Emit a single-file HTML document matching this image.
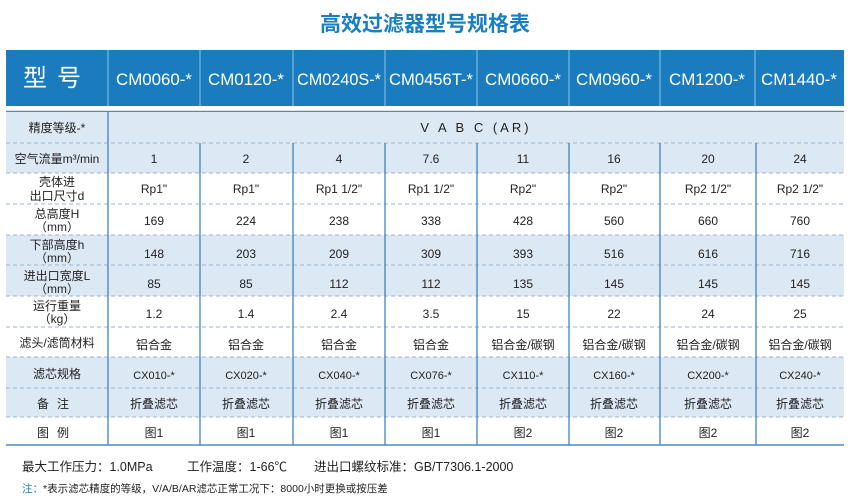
<!DOCTYPE html>
<html><head><meta charset="utf-8"><style>
*{margin:0;padding:0;box-sizing:border-box}
body{width:850px;height:498px;background:#fff;position:relative;overflow:hidden;font-family:"Liberation Sans","Noto Sans CJK SC",sans-serif;color:#222}
.t{position:absolute;text-align:center;white-space:nowrap}
</style></head><body>
<div class="t" style="left:0;width:850px;top:8px;font-size:21px;font-weight:bold;color:#1a7fc1">高效过滤器型号规格表</div>
<svg width="850" height="498" style="position:absolute;left:0;top:0" font-family="Liberation Sans, Noto Sans CJK SC, sans-serif">
<rect x="6" y="50" width="838" height="56" fill="#1a7cbf"/>
<g stroke="#8fc0e4" stroke-width="1">
<line x1="108" y1="50" x2="108" y2="106"/><line x1="200" y1="50" x2="200" y2="106"/><line x1="293" y1="50" x2="293" y2="106"/><line x1="385" y1="50" x2="385" y2="106"/><line x1="477" y1="50" x2="477" y2="106"/><line x1="569" y1="50" x2="569" y2="106"/><line x1="660" y1="50" x2="660" y2="106"/><line x1="755" y1="50" x2="755" y2="106"/>
</g>
<g fill="#fff" font-size="17" text-anchor="middle">
<text x="57" y="86" font-size="24" letter-spacing="10">型号</text>
<text x="154" y="85" textLength="76" lengthAdjust="spacingAndGlyphs">CM0060-*</text><text x="246" y="85" textLength="76" lengthAdjust="spacingAndGlyphs">CM0120-*</text><text x="339" y="85" textLength="84" lengthAdjust="spacingAndGlyphs">CM0240S-*</text><text x="431" y="85" textLength="84" lengthAdjust="spacingAndGlyphs">CM0456T-*</text><text x="523" y="85" textLength="76" lengthAdjust="spacingAndGlyphs">CM0660-*</text><text x="614" y="85" textLength="76" lengthAdjust="spacingAndGlyphs">CM0960-*</text><text x="707" y="85" textLength="76" lengthAdjust="spacingAndGlyphs">CM1200-*</text><text x="799" y="85" textLength="76" lengthAdjust="spacingAndGlyphs">CM1440-*</text>
</g>
<line x1="6" y1="111.5" x2="844" y2="111.5" stroke="#4a8cc4" stroke-width="1.5"/>
<g fill="#dce8f4">
<rect x="6" y="112" width="838" height="61"/>
<rect x="6" y="235" width="838" height="61"/>
<rect x="6" y="357" width="838" height="60"/>
</g>
<g stroke="#9bb3cc" stroke-dasharray="4,3" stroke-width="1">
<line x1="6" y1="143" x2="844" y2="143"/><line x1="6" y1="173" x2="844" y2="173"/><line x1="6" y1="204" x2="844" y2="204"/><line x1="6" y1="235" x2="844" y2="235"/><line x1="6" y1="265" x2="844" y2="265"/><line x1="6" y1="296" x2="844" y2="296"/><line x1="6" y1="327" x2="844" y2="327"/><line x1="6" y1="357" x2="844" y2="357"/><line x1="6" y1="388" x2="844" y2="388"/><line x1="6" y1="417" x2="844" y2="417"/>
</g>
<line x1="6" y1="445" x2="844" y2="445" stroke="#4a8cc4" stroke-width="1.5"/>
<g stroke="#3f86bf" stroke-width="1.3">
<line x1="108" y1="112" x2="108" y2="445"/>
<line x1="200" y1="143" x2="200" y2="445"/><line x1="293" y1="143" x2="293" y2="445"/><line x1="385" y1="143" x2="385" y2="445"/><line x1="477" y1="143" x2="477" y2="445"/><line x1="569" y1="143" x2="569" y2="445"/><line x1="660" y1="143" x2="660" y2="445"/><line x1="756" y1="143" x2="756" y2="445"/>
</g>
<g font-size="12" fill="#222" text-anchor="middle">
<text x="57" y="132">精度等级-*</text>
<text x="57" y="163">空气流量m³/min</text>
<text x="57" y="186">壳体进</text><text x="57" y="200">出口尺寸d</text>
<text x="57" y="218">总高度H</text><text x="57" y="231">（mm）</text>
<text x="57" y="249">下部高度h</text><text x="57" y="262">（mm）</text>
<text x="57" y="280">进出口宽度L</text><text x="57" y="293">（mm）</text>
<text x="57" y="310">运行重量</text><text x="57" y="323">（kg）</text>
<text x="57" y="347">滤头/滤筒材料</text>
<text x="57" y="378">滤芯规格</text>
<text x="57" y="408" letter-spacing="8">备注</text>
<text x="57" y="437" letter-spacing="8">图例</text>
<text x="476" y="132" font-size="13" letter-spacing="3">V A B C (AR)</text>
</g>
<g font-size="12" fill="#222" text-anchor="middle">
<g transform="translate(0,163)"><text x="154">1</text><text x="246">2</text><text x="339">4</text><text x="431">7.6</text><text x="523">11</text><text x="614">16</text><text x="708">20</text><text x="800">24</text></g>
<g transform="translate(0,193)"><text x="154">Rp1"</text><text x="246">Rp1"</text><text x="339">Rp1 1/2"</text><text x="431">Rp1 1/2"</text><text x="523">Rp2"</text><text x="614">Rp2"</text><text x="708">Rp2 1/2"</text><text x="800">Rp2 1/2"</text></g>
<g transform="translate(0,225)"><text x="154">169</text><text x="246">224</text><text x="339">238</text><text x="431">338</text><text x="523">428</text><text x="614">560</text><text x="708">660</text><text x="800">760</text></g>
<g transform="translate(0,258)"><text x="154">148</text><text x="246">203</text><text x="339">209</text><text x="431">309</text><text x="523">393</text><text x="614">516</text><text x="708">616</text><text x="800">716</text></g>
<g transform="translate(0,288)"><text x="154">85</text><text x="246">85</text><text x="339">112</text><text x="431">112</text><text x="523">135</text><text x="614">145</text><text x="708">145</text><text x="800">145</text></g>
<g transform="translate(0,318)"><text x="154">1.2</text><text x="246">1.4</text><text x="339">2.4</text><text x="431">3.5</text><text x="523">15</text><text x="614">22</text><text x="708">24</text><text x="800">25</text></g>
<g transform="translate(0,349)"><text x="154">铝合金</text><text x="246">铝合金</text><text x="339">铝合金</text><text x="431">铝合金</text><text x="523">铝合金/碳钢</text><text x="614">铝合金/碳钢</text><text x="708">铝合金/碳钢</text><text x="800">铝合金/碳钢</text></g>
<g transform="translate(0,379)" font-size="11"><text x="154">CX010-*</text><text x="246">CX020-*</text><text x="339">CX040-*</text><text x="431">CX076-*</text><text x="523">CX110-*</text><text x="614">CX160-*</text><text x="708">CX200-*</text><text x="800">CX240-*</text></g>
<g transform="translate(0,408)"><text x="154">折叠滤芯</text><text x="246">折叠滤芯</text><text x="339">折叠滤芯</text><text x="431">折叠滤芯</text><text x="523">折叠滤芯</text><text x="614">折叠滤芯</text><text x="708">折叠滤芯</text><text x="800">折叠滤芯</text></g>
<g transform="translate(0,437)"><text x="154">图1</text><text x="246">图1</text><text x="339">图1</text><text x="431">图1</text><text x="523">图2</text><text x="614">图2</text><text x="708">图2</text><text x="800">图2</text></g>
</g>
<text x="22" y="471" font-size="12.5" fill="#222">最大工作压力：1.0MPa<tspan x="187">工作温度：1-66℃</tspan><tspan x="314">进出口螺纹标准：GB/T7306.1-2000</tspan></text>
<text x="22" y="492" font-size="10.5" fill="#222"><tspan fill="#1a7fc1">注：</tspan>*表示滤芯精度的等级，V/A/B/AR滤芯正常工况下：8000小时更换或按压差</text>
</svg>
</body></html>
